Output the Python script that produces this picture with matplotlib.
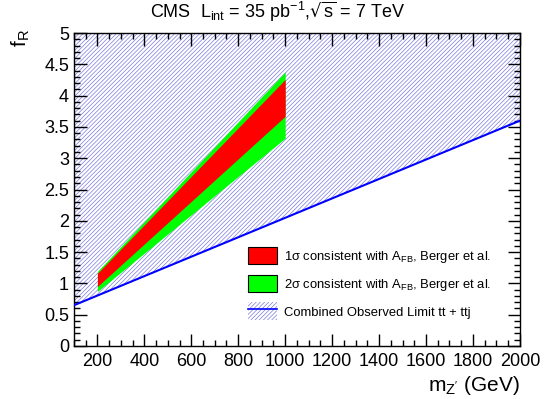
import matplotlib
matplotlib.use('Agg')
import matplotlib.pyplot as plt
from matplotlib.patches import Patch
from matplotlib.lines import Line2D
from matplotlib.ticker import MultipleLocator

plt.rcParams['font.family'] = ['Liberation Sans', 'DejaVu Sans']
plt.rcParams['hatch.linewidth'] = 0.5

# observed limit (straight line in m_Z', f_R)
limit_m = [100, 2000]
limit_f = [0.65, 3.6]

# bands consistent with A_FB
band_m = [200, 1000]
green_lo = [0.87, 3.32]
green_hi = [1.19, 4.38]
red_lo = [0.95, 3.67]
red_hi = [1.16, 4.26]

hatch_col = '#7b7be0'


def main():
    fig = plt.figure(figsize=(5.56, 3.99), dpi=100)
    ax = fig.add_axes([0.133, 0.133, 0.802, 0.784])

    # excluded region above the limit
    ax.fill_between(limit_m, limit_f, [5, 5], facecolor='none', edgecolor=hatch_col,
                    hatch='////////', linewidth=0)
    ax.fill_between(band_m, green_lo, green_hi, color='#00ff00', linewidth=0, zorder=3)
    ax.fill_between(band_m, red_lo, red_hi, color='#ff0000', linewidth=0, zorder=4)
    ax.plot(limit_m, limit_f, color='#0000ff', linewidth=1.5, zorder=5)

    ax.set_xlim(100, 2000)
    ax.set_ylim(0, 5)
    ax.xaxis.set_major_locator(MultipleLocator(200))
    ax.xaxis.set_minor_locator(MultipleLocator(50))
    ax.yaxis.set_major_locator(MultipleLocator(0.5))
    ax.yaxis.set_minor_locator(MultipleLocator(0.1))
    ax.set_yticks([0, 0.5, 1, 1.5, 2, 2.5, 3, 3.5, 4, 4.5, 5])
    ax.set_yticklabels(['0', '0.5', '1', '1.5', '2', '2.5', '3', '3.5', '4', '4.5', '5'])
    ax.tick_params(which='both', direction='in', top=True, right=True, labelsize=13)
    ax.tick_params(which='major', length=9, width=1)
    ax.tick_params(which='minor', length=4.5, width=1)
    ax.tick_params(axis='x', pad=5)
    for s in ax.spines.values():
        s.set_linewidth(1)

    # titles
    fig.text(0.5, 0.97, r'CMS  L$_{\mathregular{int}}$ = 35 pb$^{\mathregular{-1}}$,$\sqrt{\mathregular{s}}$ = 7 TeV',
             ha='center', va='center', fontsize=13)
    fig.text(0.038, 0.905, r'f$_{\mathregular{R}}$', rotation=90, ha='center', va='center', fontsize=15)
    fig.text(0.935, 0.035, r"m$_{\mathregular{Z'}}$ (GeV)", ha='right', va='center', fontsize=15)

    handles = [Patch(facecolor='#ff0000', edgecolor='black', linewidth=0.8),
               Patch(facecolor='#00ff00', edgecolor='black', linewidth=0.8),
               (Patch(facecolor='none', edgecolor=hatch_col, hatch='////////', linewidth=0),
                Line2D([], [], color='#0000ff', linewidth=1.2))]
    labels = [r'1σ consistent with A$_{\mathregular{FB}}$, Berger et al.',
              r'2σ consistent with A$_{\mathregular{FB}}$, Berger et al.',
              'Combined Observed Limit tt + ttj']
    ax.legend(handles, labels, loc='lower right', bbox_to_anchor=(0.962, 0.045),
              frameon=False, fontsize=9.4, handlelength=2.2, handleheight=1.7,
              labelspacing=0.75, handletextpad=0.55)

    plt.savefig('out.png', dpi=100)


if __name__ == '__main__':
    main()
